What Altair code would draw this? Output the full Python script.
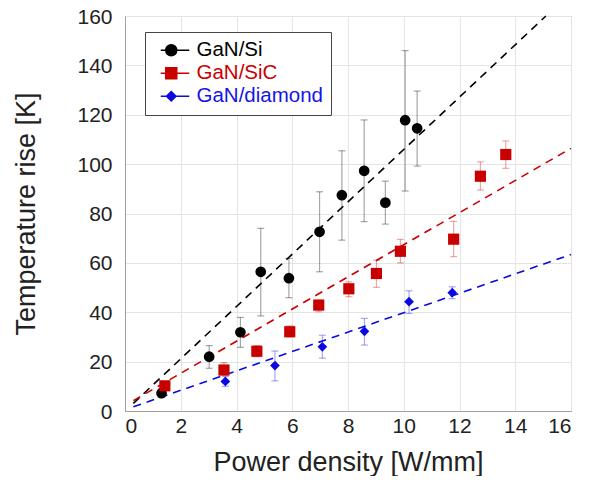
import altair as alt
import pandas as pd

series_names = ["GaN/Si", "GaN/SiC", "GaN/diamond"]
series_colors = ["#000000", "#c80000", "#0a0ae0"]

# GaN/Si
si_x = [1.31, 3.02, 4.14, 4.87, 5.88, 6.98, 7.78, 8.58, 9.34, 10.05, 10.48]
si_y = [7.2, 22.0, 31.9, 56.4, 53.8, 72.6, 87.4, 97.3, 84.4, 117.8, 114.5]
si_lo = [5.5, 17.3, 25.8, 38.5, 45.9, 56.4, 69.2, 76.7, 75.7, 89.1, 99.2]
si_hi = [9.0, 26.5, 37.9, 74.0, 61.8, 88.8, 105.4, 117.9, 93.1, 146.0, 129.6]

# GaN/SiC
sic_x = [1.43, 3.55, 4.73, 5.91, 6.95, 8.03, 9.02, 9.88, 11.79, 12.75, 13.66]
sic_y = [10.2, 16.6, 24.2, 32.1, 42.9, 49.5, 55.7, 64.7, 69.6, 95.1, 103.9]
sic_lo = [9.0, 14.5, 22.0, 30.0, 40.2, 46.3, 50.1, 60.0, 62.5, 89.5, 98.3]
sic_hi = [11.5, 19.6, 26.5, 34.5, 44.9, 52.3, 61.1, 69.5, 76.8, 100.9, 109.4]

# GaN/diamond
dia_x = [3.6, 5.38, 7.08, 8.59, 10.19, 11.74]
dia_y = [12.0, 18.4, 26.0, 32.3, 44.3, 47.9]
dia_lo = [10.0, 12.2, 21.4, 26.7, 39.5, 45.5]
dia_hi = [14.0, 24.3, 30.7, 37.5, 48.7, 50.3]

# dashed fit lines (start and end points)
fit_x0 = [0.3, 0.3, 0.3]
fit_y0 = [3.1, 4.2, 1.7]
fit_x1 = [15.1, 16.0, 16.0]
fit_y1 = [160.0, 106.4, 63.4]

x_ticks = [0, 2, 4, 6, 8, 10, 12, 14, 16]
y_ticks = [0, 20, 40, 60, 80, 100, 120, 140, 160]

rows = []
for name, xs, ys, los, his in [
    ("GaN/Si", si_x, si_y, si_lo, si_hi),
    ("GaN/SiC", sic_x, sic_y, sic_lo, sic_hi),
    ("GaN/diamond", dia_x, dia_y, dia_lo, dia_hi),
]:
    for a, b, c, d in zip(xs, ys, los, his):
        rows.append(dict(series=name, x=a, y=b, lo=c, hi=d))
pts = pd.DataFrame(rows)

fit_rows = []
for name, a, b, c, d in zip(series_names, fit_x0, fit_y0, fit_x1, fit_y1):
    fit_rows.append(dict(series=name, x=a, y=b, o=0))
    fit_rows.append(dict(series=name, x=c, y=d, o=1))
fits = pd.DataFrame(fit_rows)

FONT = "Liberation Sans"
XT = "Power density [W/mm]"
YT = "Temperature rise [K]"

xscale = alt.Scale(domain=[0, 16], nice=False, zero=False)
yscale = alt.Scale(domain=[0, 160], nice=False, zero=False)


def cscale():
    return alt.Scale(domain=series_names, range=series_colors)


xaxis = alt.Axis(values=x_ticks, title=XT, labelPadding=4, titlePadding=13)
yaxis = alt.Axis(values=y_ticks, title=YT, labelPadding=13, titlePadding=36, labelOffset=1)

X = alt.X("x:Q", scale=xscale, axis=xaxis)
Y = alt.Y("y:Q", scale=yscale, axis=yaxis)

err_rule = alt.Chart(pts).mark_rule(strokeWidth=1.2, opacity=0.35).encode(
    x=X,
    y=alt.Y("lo:Q", scale=yscale, title=YT),
    y2="hi:Q",
    color=alt.Color("series:N", scale=cscale(), legend=None),
)
cap_lo = alt.Chart(pts).mark_tick(orient="horizontal", size=7, thickness=1.2, opacity=0.35).encode(
    x=X,
    y=alt.Y("lo:Q", scale=yscale, title=YT),
    color=alt.Color("series:N", scale=cscale(), legend=None),
)
cap_hi = alt.Chart(pts).mark_tick(orient="horizontal", size=7, thickness=1.2, opacity=0.35).encode(
    x=X,
    y=alt.Y("hi:Q", scale=yscale, title=YT),
    color=alt.Color("series:N", scale=cscale(), legend=None),
)

fit_lines = alt.Chart(fits).mark_line(strokeDash=[8, 6], strokeWidth=1.6).encode(
    x=X,
    y=Y,
    color=alt.Color("series:N", scale=cscale(), legend=None),
    detail="series:N",
    order="o:Q",
)

shapes = ["circle", "square", "diamond"]
sizes = [115, 125, 95]
point_layers = []
for name, col, shp, sz in zip(series_names, series_colors, shapes, sizes):
    point_layers.append(
        alt.Chart(pts)
        .transform_filter(alt.datum.series == name)
        .mark_point(filled=True, shape=shp, size=sz, color=col, opacity=1)
        .encode(x=X, y=Y)
    )

# legend-only layer (invisible points) with line+marker symbols
leg_paths = [
    "M-2.1,0H-1.1M1.1,0H3.6M-1.1,0A1.1,1.1,0,1,0,1.1,0A1.1,1.1,0,1,0,-1.1,0Z",
    "M-2.1,0H-1.1M1.1,0H3.6M-1.1,-1.1H1.1V1.1H-1.1Z",
    "M-2.1,0H-0.95M0.95,0H3.6M0,-0.95L0.95,0L0,0.95L-0.95,0Z",
]
label_expr = (
    "datum.value == 'GaN/Si' ? '#000000' : "
    "(datum.value == 'GaN/SiC' ? '#c80000' : '#1414e6')"
)
legend = alt.Legend(
    title=None,
    orient="none",
    legendX=20,
    legendY=16,
    strokeColor="#444444",
    fillColor="white",
    padding=8,
    labelFont=FONT,
    labelFontSize=20.5,
    labelColor=alt.ExprRef(label_expr),
    symbolSize=100,
    symbolStrokeWidth=1.5,
    symbolOpacity=1,
    symbolOffset=8,
    labelOffset=15,
    rowPadding=2,
)
legend_layer = alt.Chart(pts).mark_point(filled=True, opacity=0, size=100, strokeWidth=1.5).encode(
    x=X,
    y=Y,
    color=alt.Color("series:N", scale=cscale(), legend=legend),
    stroke=alt.Stroke("series:N", scale=cscale(), legend=legend),
    shape=alt.Shape("series:N", scale=alt.Scale(domain=series_names, range=leg_paths), legend=legend),
)

chart = (
    alt.layer(err_rule, cap_lo, cap_hi, fit_lines, *point_layers, legend_layer)
    .resolve_scale(color="independent", shape="independent", stroke="independent")
    .properties(
        width=446,
        height=395,
        autosize=alt.AutoSizeParams(type="none"),
        padding={"left": 117, "top": 8, "right": 14, "bottom": 65},
    )
    .configure_view(stroke="#a0a0a0", strokeWidth=1)
    .configure_axis(
        labelFont=FONT,
        titleFont=FONT,
        labelFontSize=21,
        titleFontSize=27,
        titleFontWeight="normal",
        labelColor="#222222",
        titleColor="#222222",
        gridColor="#e4e4e4",
        gridWidth=1,
        domainColor="#a0a0a0",
        tickSize=0,
    )
)

chart.save("out.html", embed_options={"renderer": "svg", "actions": False})
